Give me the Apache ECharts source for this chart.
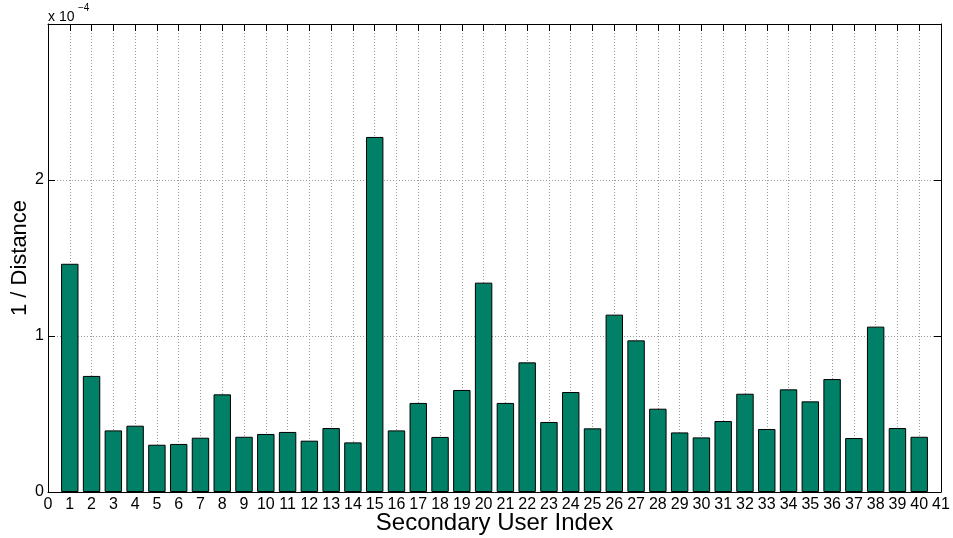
<!DOCTYPE html>
<html>
<head>
<meta charset="utf-8">
<script src="https://cdn.jsdelivr.net/npm/echarts@6/dist/echarts.min.js"></script>
<style>html,body{margin:0;padding:0;background:#fff;}#c{width:953px;height:538px;}</style>
</head>
<body>
<div id="c"></div>
<script>
const userIndex = [1,2,3,4,5,6,7,8,9,10,11,12,13,14,15,16,17,18,19,20,21,22,23,24,25,26,27,28,29,30,31,32,33,34,35,36,37,38,39,40];
const invDistance = [1.463e-4,0.744e-4,0.395e-4,0.425e-4,0.303e-4,0.308e-4,0.348e-4,0.626e-4,0.354e-4,0.372e-4,
  0.385e-4,0.329e-4,0.410e-4,0.318e-4,2.276e-4,0.395e-4,0.571e-4,0.353e-4,0.654e-4,1.342e-4,
  0.571e-4,0.831e-4,0.449e-4,0.641e-4,0.408e-4,1.137e-4,0.972e-4,0.534e-4,0.382e-4,0.350e-4,
  0.455e-4,0.630e-4,0.404e-4,0.658e-4,0.581e-4,0.724e-4,0.346e-4,1.060e-4,0.410e-4,0.354e-4];
const yScale = 1e-4;
const yTickLabels = ['0','1','2'];
const xMin = 0, xMax = 41;

const font = '"Liberation Sans", Arial, Helvetica, sans-serif';
const chart = echarts.init(document.getElementById('c'), null, {renderer:'canvas'});
const gridLine = {show:true, lineStyle:{color:'#9a9a9a', type:[1,2], width:1}};
const axisLineStyle = {show:true, onZero:false, lineStyle:{color:'#000', width:1}};
const tick = {show:true, inside:true, length:7, lineStyle:{color:'#000'}};
chart.setOption({
  animation:false,
  backgroundColor:'#fff',
  grid:{left:48, right:12, top:24, bottom:46, containLabel:false, outerBoundsMode:'none'},
  graphic:[
    {type:'text', left:48, top:10, style:{text:'x 10', font:'14px '+font, fill:'#000'}},
    {type:'text', left:78, top:3, style:{text:'−4', font:'10px '+font, fill:'#000'}}
  ],
  xAxis:[
    {type:'value', min:xMin, max:xMax, interval:1, position:'bottom',
     axisLine:axisLineStyle, axisTick:tick,
     axisLabel:{show:true, color:'#000', fontFamily:font, fontSize:16, margin:5, showMinLabel:true, showMaxLabel:true},
     splitLine:gridLine,
     name:'Secondary User Index', nameLocation:'middle', nameGap:19, nameMoveOverlap:false,
     nameTextStyle:{fontFamily:font, fontSize:24, color:'#000'}},
    {type:'value', min:xMin, max:xMax, interval:1, position:'top',
     axisLine:axisLineStyle, axisTick:tick,
     axisLabel:{show:false}, splitLine:{show:false}}
  ],
  yAxis:[
    {type:'value', min:0, max:3*yScale, interval:yScale, position:'left',
     axisLine:axisLineStyle, axisTick:tick,
     axisLabel:{color:'#000', fontFamily:font, fontSize:16, margin:4,
       formatter:function(v){const i=Math.round(v/yScale); return i<yTickLabels.length?yTickLabels[i]:'';}},
     splitLine:gridLine,
     name:'1 / Distance', nameLocation:'middle', nameGap:17, nameRotate:90, nameMoveOverlap:false,
     nameTextStyle:{fontFamily:font, fontSize:22, color:'#000'}},
    {type:'value', min:0, max:3*yScale, interval:yScale, position:'right',
     axisLine:axisLineStyle, axisTick:tick,
     axisLabel:{show:false}, splitLine:{show:false}}
  ],
  series:[{
    type:'bar', xAxisIndex:0, yAxisIndex:0, barWidth:'80%',
    itemStyle:{color:'#008066', borderColor:'#000', borderWidth:1},
    data:userIndex.map((x,i)=>[x, invDistance[i]])
  }]
});
</script>
</body>
</html>
